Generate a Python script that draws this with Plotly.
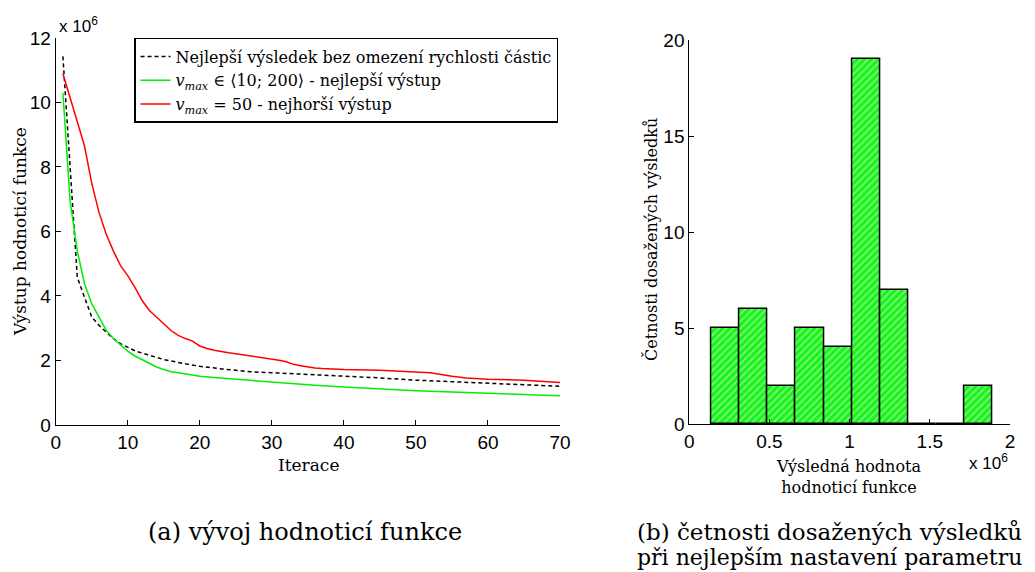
import plotly.graph_objects as go

# ---- Left plot data (values in units of 1e6) ----
best_x = [1, 2, 3, 4, 5, 6, 7, 8, 9, 10, 11, 12, 13, 15, 17, 20, 23, 25, 27, 30, 35, 40, 45, 50, 55, 60, 65, 70]
best_y = [11.43, 7.98, 4.58, 3.96, 3.35, 3.09, 2.88, 2.68, 2.52, 2.40, 2.30, 2.23, 2.16, 2.03, 1.94, 1.82,
          1.74, 1.70, 1.65, 1.62, 1.57, 1.51, 1.46, 1.39, 1.34, 1.31, 1.26, 1.20]

green_x = [1, 2, 3, 4, 5, 6, 7, 8, 9, 10, 11, 12, 13, 14, 15, 16, 17, 18, 19, 20, 22, 25, 27, 30, 33, 36,
           40, 43, 47, 50, 55, 60, 65, 70]
green_y = [10.30, 6.95, 5.40, 4.38, 3.76, 3.35, 2.94, 2.68, 2.47, 2.29, 2.14, 2.03, 1.90, 1.80, 1.72, 1.65,
           1.62, 1.58, 1.54, 1.51, 1.47, 1.42, 1.37, 1.34, 1.27, 1.23, 1.18, 1.14, 1.11, 1.06, 1.02, 0.98,
           0.94, 0.91]

red_x = [1, 2, 3, 4, 5, 6, 7, 8, 9, 10, 11, 12, 13, 14, 15, 16, 17, 18, 19, 20, 21, 22, 23, 24, 25, 26,
         27, 28, 29, 30, 31, 32, 33, 34, 35, 36, 37, 38, 40, 45, 50, 52, 55, 57, 60, 65, 70]
red_y = [10.90, 10.15, 9.47, 8.65, 7.50, 6.60, 5.92, 5.40, 4.94, 4.63, 4.27, 3.86, 3.55, 3.33, 3.14, 2.93,
         2.78, 2.68, 2.60, 2.45, 2.37, 2.32, 2.27, 2.24, 2.21, 2.18, 2.14, 2.11, 2.08, 2.05, 2.01, 1.96,
         1.88, 1.84, 1.80, 1.77, 1.75, 1.74, 1.72, 1.70, 1.65, 1.62, 1.51, 1.46, 1.42, 1.39, 1.32]

# ---- Histogram data (values in units of 1e6) ----
hist_first_edge = 0.139
hist_bin_width = 0.175
hist_counts = [5, 6, 2, 5, 4, 19, 7, 0, 0, 2]
hist_centers = [hist_first_edge + hist_bin_width * (i + 0.5) for i in range(len(hist_counts))]

left_xticks = [0, 10, 20, 30, 40, 50, 60, 70]
left_yticks = [0, 2, 4, 6, 8, 10, 12]
hist_xticks = [0, 0.5, 1, 1.5, 2]
hist_xticklabels = ["0", "0.5", "1", "1.5", "2"]
hist_yticks = [0, 5, 10, 15, 20]

SERIF = "DejaVu Serif"
SANS = "Liberation Sans"

fig = go.Figure()

fig.add_trace(go.Scatter(
    x=best_x, y=best_y, mode="lines",
    line=dict(color="black", width=1.5, dash="4px,3px"),
    name="Nejlepší výsledek bez omezení rychlosti částic",
    xaxis="x", yaxis="y"))
fig.add_trace(go.Scatter(
    x=green_x, y=green_y, mode="lines",
    line=dict(color="#00ee00", width=1.5),
    name="<i>v</i><sub><i>max</i></sub> ∈ ⟨10; 200⟩ - nejlepší výstup",
    xaxis="x", yaxis="y"))
fig.add_trace(go.Scatter(
    x=red_x, y=red_y, mode="lines",
    line=dict(color="#ff0000", width=1.5),
    name="<i>v</i><sub><i>max</i></sub> = 50 - nejhorší výstup",
    xaxis="x", yaxis="y"))

fig.add_trace(go.Bar(
    x=hist_centers, y=hist_counts, width=hist_bin_width,
    marker=dict(color="#1cf21c",
                line=dict(color="black", width=1.5),
                pattern=dict(shape="/", bgcolor="#1cf21c", fgcolor="#e6ffe6",
                             size=5, solidity=0.3)),
    showlegend=False, xaxis="x2", yaxis="y2"))

axis_common = dict(
    showgrid=False, zeroline=False, showline=True, linecolor="black", linewidth=1,
    ticks="inside", ticklen=5, tickcolor="black", automargin=False,
    tickfont=dict(family=SANS, size=19, color="black"), mirror=False)

fig.update_layout(
    width=1035, height=572,
    margin=dict(l=0, r=0, t=0, b=0),
    paper_bgcolor="white", plot_bgcolor="white",
    bargap=0,
    xaxis=dict(domain=[0.0538, 0.5411], range=[0, 70], tickvals=left_xticks,
               anchor="y", **axis_common),
    yaxis=dict(domain=[0.257, 0.9336], range=[0, 12], tickvals=left_yticks,
               anchor="x", **axis_common),
    xaxis2=dict(domain=[0.666, 0.9758], range=[0, 2], tickvals=hist_xticks,
                ticktext=hist_xticklabels, anchor="y2", **axis_common),
    yaxis2=dict(domain=[0.2587, 0.930], range=[0, 20], tickvals=hist_yticks,
                anchor="x2", **axis_common),
    legend=dict(x=0.1295, y=0.9336, xanchor="left", yanchor="top",
                bgcolor="white", bordercolor="black", borderwidth=1.5,
                font=dict(family=SERIF, size=16, color="black"),
                itemwidth=30, tracegroupgap=0),
)

ann = [
    dict(text="x 10<sup>6</sup>", x=57 / 1035, y=1 - 38 / 572, xanchor="left", yanchor="bottom",
         font=dict(family=SANS, size=17)),
    dict(text="x 10<sup>6</sup>", x=967 / 1035, y=1 - 475 / 572, xanchor="left", yanchor="bottom",
         font=dict(family=SANS, size=17)),
    dict(text="Výstup hodnoticí funkce", x=20 / 1035, y=1 - 232 / 572, textangle=-90,
         xanchor="center", yanchor="middle", font=dict(family=SERIF, size=17)),
    dict(text="Iterace", x=308 / 1035, y=1 - 465 / 572, xanchor="center", yanchor="middle",
         font=dict(family=SERIF, size=17)),
    dict(text="Četnosti dosažených výsledků", x=651 / 1035, y=1 - 240 / 572, textangle=-90,
         xanchor="center", yanchor="middle", font=dict(family=SERIF, size=16)),
    dict(text="Výsledná hodnota<br>hodnoticí funkce", x=848 / 1035, y=1 - 477 / 572,
         xanchor="center", yanchor="middle", font=dict(family=SERIF, size=16)),
    dict(text="(a) vývoj hodnoticí funkce", x=305 / 1035, y=1 - 532 / 572,
         xanchor="center", yanchor="middle", font=dict(family=SERIF, size=24)),
    dict(text="(b) četnosti dosažených výsledků",
         x=635 / 1035, y=1 - 532 / 572, xanchor="left", yanchor="middle",
         font=dict(family=SERIF, size=23)),
    dict(text="při nejlepším nastavení parametru",
         x=635 / 1035, y=1 - 557 / 572, xanchor="left", yanchor="middle",
         font=dict(family=SERIF, size=22)),
]
for a in ann:
    a.setdefault("xref", "paper")
    a.setdefault("yref", "paper")
    a.setdefault("showarrow", False)
    a["font"]["color"] = "black"
fig.update_layout(annotations=ann)

fig.write_html("out.html",
               config={"displayModeBar": False},
               post_script="document.body.style.margin='0';document.body.style.overflow='hidden';")
